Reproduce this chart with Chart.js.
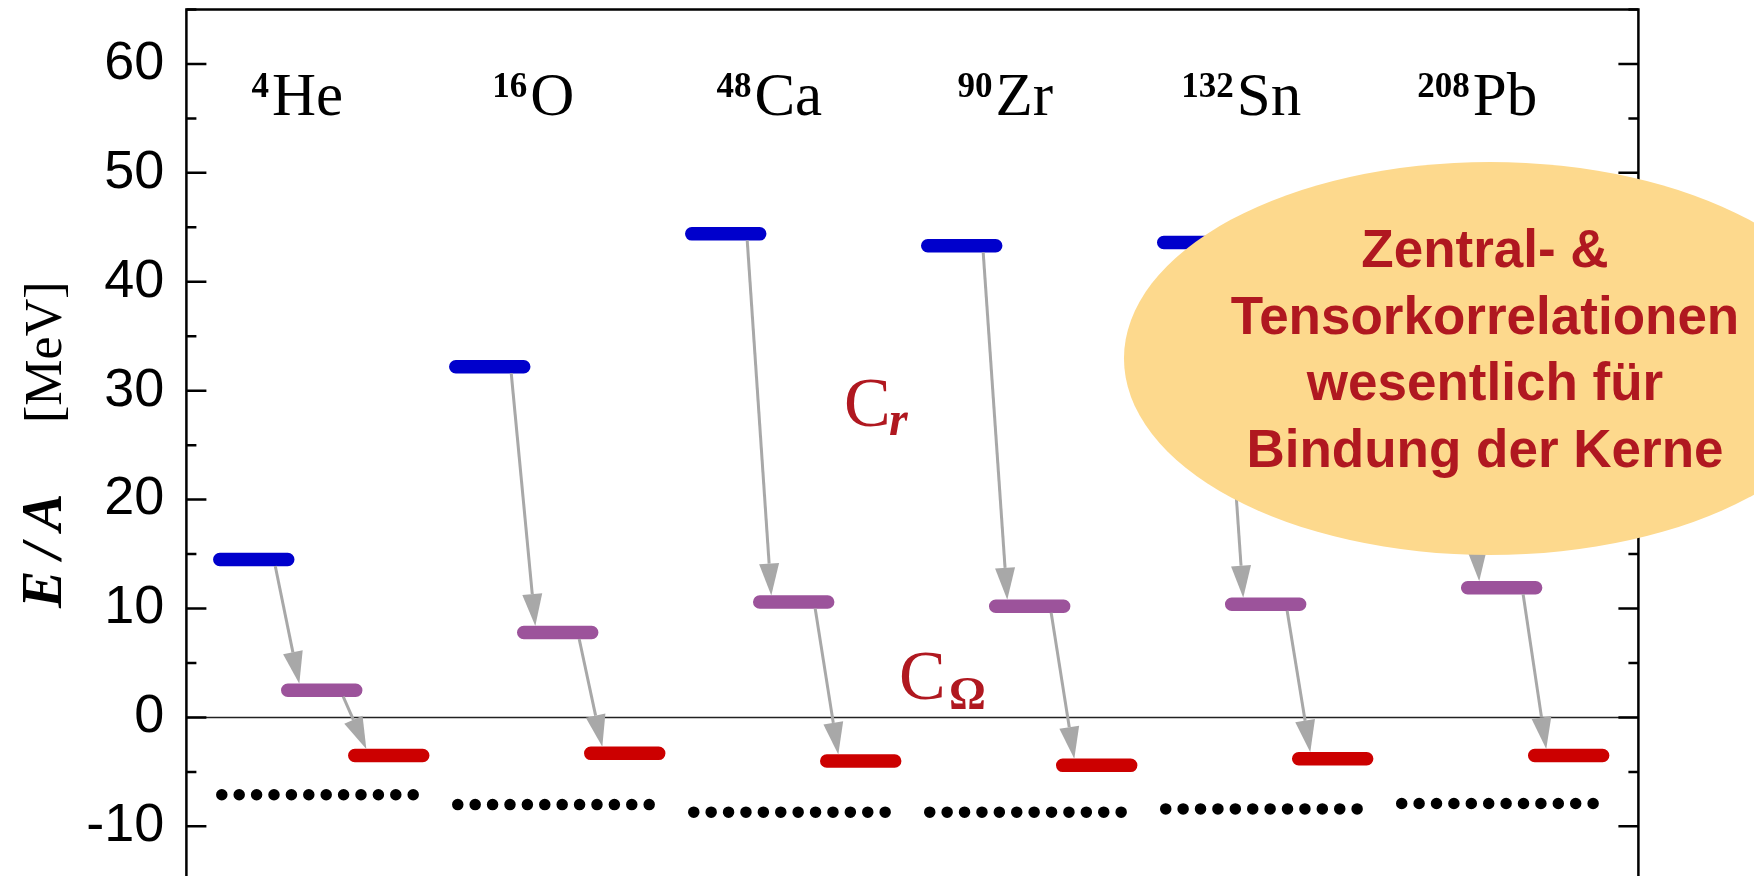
<!DOCTYPE html>
<html>
<head>
<meta charset="utf-8">
<script src="https://cdn.jsdelivr.net/npm/chart.js@4"></script>
<style>
  html, body { margin: 0; padding: 0; background: #fff; overflow: hidden; }
  canvas { display: block; }
</style>
</head>
<body>
<canvas id="myChart" width="1754" height="882"></canvas>
<script>
// data
const massNumbers = ['4', '16', '48', '90', '132', '208'];
const elements = ['He', 'O', 'Ca', 'Zr', 'Sn', 'Pb'];
const bareEnergy = [14.5, 32.2, 44.4, 43.3, 43.6, 44.6];     // blue
const centralEnergy = [2.5, 7.8, 10.6, 10.2, 10.4, 11.9];    // purple (after C_r)
const tensorEnergy = [-3.5, -3.3, -4.0, -4.4, -3.8, -3.5];   // red (after C_Omega)
const expEnergy = [-7.1, -8.0, -8.7, -8.7, -8.4, -7.9];      // experiment, dotted
const yTicks = [-10, 0, 10, 20, 30, 40, 50, 60];
const bubbleLines = ['Zentral- &', 'Tensorkorrelationen', 'wesentlich für', 'Bindung der Kerne'];

// layout inside one nucleus slot (x units, 1 unit = one nucleus)
const slot = { blue: 0.114, purple: 0.402, red: 0.686, width: 0.343, dotsFrom: 0.15, dotsTo: 0.964, label: 0.47 };
const capU = 6.5 / 236;

function levelPoints(values, start) {
  const pts = [];
  values.forEach((v, i) => {
    pts.push({ x: i + start + capU, y: v });
    pts.push({ x: i + start + slot.width - capU, y: v });
    pts.push({ x: i + start + slot.width + 0.01, y: null });
  });
  return pts;
}

function dotPoints(values) {
  const pts = [];
  values.forEach((v, i) => {
    pts.push({ x: i + slot.dotsFrom, y: v });
    pts.push({ x: i + slot.dotsTo, y: v });
    pts.push({ x: i + slot.dotsTo + 0.01, y: null });
  });
  return pts;
}

function level(label, values, start, color) {
  return {
    label, data: levelPoints(values, start),
    borderColor: color, borderWidth: 13.5, borderCapStyle: 'round',
    pointRadius: 0, fill: false, spanGaps: false
  };
}

const data = {
  datasets: [
    level('bare', bareEnergy, slot.blue, '#0000cc'),
    level('central', centralEnergy, slot.purple, '#9c539b'),
    level('tensor', tensorEnergy, slot.red, '#cc0000'),
    {
      label: 'exp', data: dotPoints(expEnergy),
      borderColor: '#000', borderWidth: 11.5, borderCapStyle: 'round',
      borderDash: [0, 17.4], pointRadius: 0, fill: false, spanGaps: false
    }
  ]
};

function drawArrow(ctx, x1, y1, x2, y2) {
  const head = 32, half = 10;
  const ang = Math.atan2(y2 - y1, x2 - x1);
  const bx = x2 - head * Math.cos(ang), by = y2 - head * Math.sin(ang);
  ctx.beginPath(); ctx.moveTo(x1, y1); ctx.lineTo(bx, by); ctx.stroke();
  ctx.beginPath();
  ctx.moveTo(x2, y2);
  ctx.lineTo(bx + half * Math.sin(ang), by - half * Math.cos(ang));
  ctx.lineTo(bx - half * Math.sin(ang), by + half * Math.cos(ang));
  ctx.closePath(); ctx.fill();
}

const decor = {
  id: 'decor',
  beforeDatasetsDraw(chart) {
    const { ctx, chartArea: a, scales: { y } } = chart;
    ctx.save();
    ctx.strokeStyle = '#222'; ctx.lineWidth = 1.5;
    const y0 = y.getPixelForValue(0);
    ctx.beginPath(); ctx.moveTo(a.left, y0); ctx.lineTo(a.right, y0); ctx.stroke();
    ctx.restore();
  },
  afterDatasetsDraw(chart) {
    const { ctx, chartArea: a, scales: { x, y } } = chart;
    ctx.save();
    // arrows
    ctx.strokeStyle = '#a8a8a8'; ctx.fillStyle = '#a8a8a8'; ctx.lineWidth = 3;
    const mid = slot.width / 2;
    for (let i = 0; i < elements.length; i++) {
      drawArrow(ctx,
        x.getPixelForValue(i + slot.blue + mid + 0.091), y.getPixelForValue(bareEnergy[i]) + 6.5,
        x.getPixelForValue(i + slot.purple + mid - 0.095), y.getPixelForValue(centralEnergy[i]) - 6.5);
      drawArrow(ctx,
        x.getPixelForValue(i + slot.purple + mid + 0.091), y.getPixelForValue(centralEnergy[i]) + 6.5,
        x.getPixelForValue(i + slot.red + mid - 0.095), y.getPixelForValue(tensorEnergy[i]) - 6.5);
    }
    // frame
    ctx.strokeStyle = '#000'; ctx.lineWidth = 2.5;
    ctx.strokeRect(a.left, a.top, a.right - a.left, a.bottom - a.top);
    // inward ticks on both sides
    for (let v = -15; v <= 65; v += 5) {
      const py = y.getPixelForValue(v);
      const len = v % 10 === 0 ? 20 : 10;
      ctx.beginPath();
      ctx.moveTo(a.left, py); ctx.lineTo(a.left + len, py);
      ctx.moveTo(a.right, py); ctx.lineTo(a.right - len, py);
      ctx.stroke();
    }
    // nucleus labels
    ctx.fillStyle = '#000'; ctx.textBaseline = 'alphabetic'; ctx.textAlign = 'left';
    const by = y.getPixelForValue(55.3);
    const supFont = 'bold 35px "Liberation Serif"', mainFont = '61px "Liberation Serif"';
    for (let i = 0; i < elements.length; i++) {
      ctx.font = supFont;
      const ws = ctx.measureText(massNumbers[i]).width;
      ctx.font = mainFont;
      const we = ctx.measureText(elements[i]).width;
      const cx = x.getPixelForValue(i + slot.label);
      const left = cx - (ws + 3 + we) / 2;
      ctx.font = supFont;
      ctx.fillText(massNumbers[i], left, by - 18);
      ctx.font = mainFont;
      ctx.fillText(elements[i], left + ws + 3, by);
    }
    // C_r and C_Omega
    ctx.fillStyle = '#b01820';
    const cr = [x.getPixelForValue(2.787), y.getPixelForValue(26.75)];
    ctx.font = '70px "Liberation Serif"';
    ctx.fillText('C', cr[0], cr[1]);
    ctx.font = 'bold italic 48px "Liberation Serif"';
    ctx.fillText('r', cr[0] + 45, cr[1] + 9);
    const co = [x.getPixelForValue(3.02), y.getPixelForValue(1.7)];
    ctx.font = '70px "Liberation Serif"';
    ctx.fillText('C', co[0], co[1]);
    ctx.font = 'bold 46px "Liberation Serif"';
    ctx.fillText('Ω', co[0] + 50, co[1] + 10);
    ctx.restore();
  },
  afterDraw(chart) {
    const { ctx, scales: { x, y } } = chart;
    ctx.save();
    // y title
    ctx.fillStyle = '#000';
    ctx.translate(61, 608);
    ctx.rotate(-Math.PI / 2);
    ctx.textAlign = 'left'; ctx.textBaseline = 'alphabetic';
    ctx.font = 'bold italic 56px "Liberation Serif"';
    ctx.letterSpacing = '12px';
    ctx.fillText('E/A', 0, 0);
    ctx.letterSpacing = '0px';
    ctx.font = '52px "Liberation Serif"';
    ctx.fillText('[MeV]', 185, 0);
    ctx.restore();

    // bubble
    ctx.save();
    const ex = x.getPixelForValue(5.524), ey = y.getPixelForValue(32.95);
    ctx.fillStyle = '#fdd98d';
    ctx.beginPath(); ctx.ellipse(ex, ey, 366, 196.5, 0, 0, Math.PI * 2); ctx.fill();
    ctx.fillStyle = '#b01820';
    ctx.font = 'bold 53px "Liberation Sans"';
    ctx.textAlign = 'center'; ctx.textBaseline = 'alphabetic';
    bubbleLines.forEach((t, k) => ctx.fillText(t, ex - 5, ey - 91.5 + k * 66.7));
    ctx.restore();
  }
};

const config = {
  type: 'line',
  data,
  options: {
    responsive: false,
    animation: false,
    layout: { padding: { left: 0, right: 115.6, top: 9.5, bottom: 1.2 } },
    plugins: { legend: { display: false }, tooltip: { enabled: false } },
    scales: {
      x: { type: 'linear', min: 0, max: 6.153, display: false },
      y: {
        type: 'linear', min: -15, max: 65,
        grid: { display: false, drawTicks: false },
        border: { display: false },
        afterFit(scale) {
          scale.width = 186.4;
          scale.paddingTop = 0;
          scale.paddingBottom = 0;
        },
        ticks: {
          stepSize: 5, autoSkip: false, padding: 22, color: '#000',
          font: { family: 'Liberation Sans', size: 54 },
          callback: (v) => yTicks.includes(v) ? String(v) : ''
        }
      }
    }
  },
  plugins: [decor]
};

const ctx = document.getElementById('myChart');
const myChart = new Chart(ctx, config);
</script>
</body>
</html>
